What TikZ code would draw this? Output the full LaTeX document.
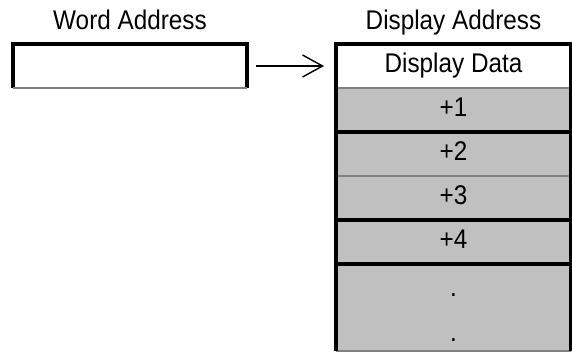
\documentclass[tikz,border=0pt]{standalone}
\usepackage{fontspec}
\setmainfont{Liberation Sans}[FakeStretch=0.9]
\usetikzlibrary{positioning, arrows.meta}
\definecolor{cellgray}{HTML}{C0C0C0}
\definecolor{rulegray}{HTML}{808080}

\begin{document}
\begin{tikzpicture}[x=1pt, y=-1pt,
		>={Straight Barb[length=20pt, width=22pt]},   % open arrow tip
		font=\fontsize{27}{27}\selectfont,
		cell/.style={rectangle, fill=cellgray, minimum width=235pt, minimum height=44pt,
			text height=19pt, text depth=5pt, inner sep=0pt, outer sep=0pt},
		title/.style={anchor=base},
		edge/.style={line width=3.2pt, black},
		fine/.style={line width=1.6pt, rulegray}]
		\useasboundingbox (0,0) rectangle (572,352);
		\clip (0,0) rectangle (572,352);
		% Word address box
		\node[cell, fill=white, minimum width=234pt] (word) at (130,66) {};
		\node[title] (wordlbl) at ([yshift=14.5pt]word.north) {Word Address};
		% Display address column
		\node[cell, fill=white] (data) at (453.5,66) {Display Data};
		\node[title] (datalbl) at ([yshift=14.5pt]data.north) {Display Address};
		\node[cell, below=0pt of data] (p1) {+1};
		\node[cell, below=0pt of p1] (p2) {+2};
		\node[cell, below=0pt of p2] (p3) {+3};
		\node[cell, below=0pt of p3] (p4) {+4};
		\node[cell, minimum height=87pt, below=0pt of p4] (more) {};
		\node[title] (dota) at ([yshift=-32.5pt]p4.south) {.};
		\node[title] (dotb) at ([yshift=-77.5pt]p4.south) {.};
		% Rahmen
		\draw[edge] (word.south west) -- (word.north west) -- (word.north east) -- (word.south east);
		\draw[fine] (word.south west) -- (word.south east);
		\foreach \c/\s in {data/fine, p1/edge, p2/fine, p3/edge, p4/edge, more/fine}
			\draw[\s] (\c.south west) -- (\c.south east);
		\draw[edge] (more.south west) -- (data.north west) -- (data.north east) -- (more.south east);
		% Pfeil
		\draw[->, line width=1.4pt, shorten <=9pt, shorten >=12pt] (word.east) -- (data.west);
	\end{tikzpicture}
\end{document}
